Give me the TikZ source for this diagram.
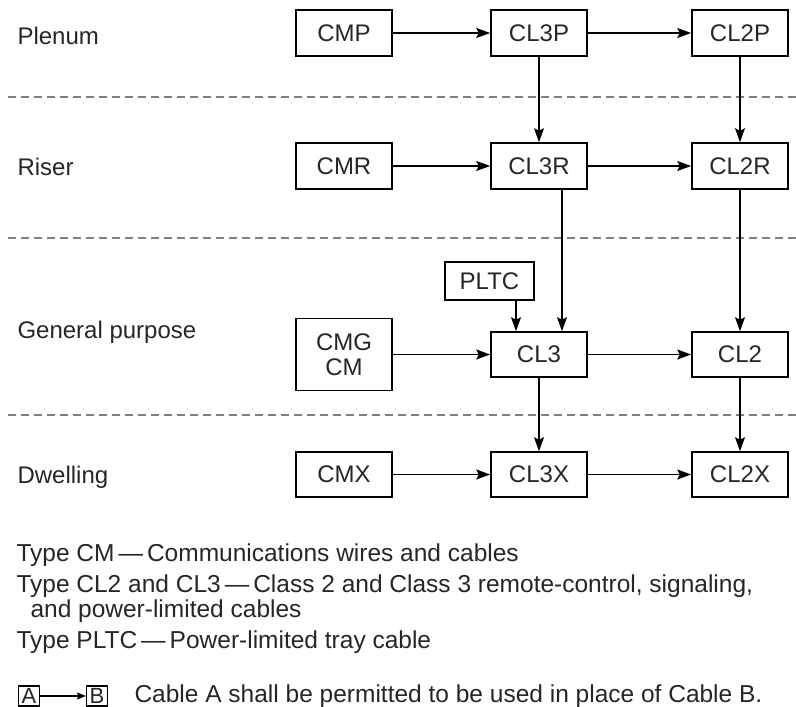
\documentclass[tikz,border=0pt]{standalone}
\usepackage{fontspec}
\setmainfont{Liberation Sans}
\usetikzlibrary{arrows.meta,positioning}
\def\dsh{\hspace{4pt}—\hspace{4pt}}

\begin{document}
\begin{tikzpicture}[
    x=1pt, y=-1pt,
    every node/.style={
        font=\fontsize{24}{25}\selectfont,
        text=black!85,
    },
    cable/.style={draw, line width=1.6pt, minimum width=96pt,
        minimum height=46pt, inner sep=0pt, align=center},
    permit/.style={-{Stealth[length=14pt,width=10pt,inset=2.5pt]}, line width=1.4pt},
    divider/.style={dash pattern=on 8pt off 5pt, line width=1.2pt, black!50},
    rowlabel/.style={anchor=base west},
    keyline/.style={anchor=base west, font=\fontsize{24.5}{25}\selectfont},
    keybox/.style={draw, line width=1.1pt, minimum width=21pt, minimum height=20pt,
        inner sep=0pt, font=\fontsize{22}{22}\selectfont},
]
    \useasboundingbox (0,0) rectangle (796,707);
    % rows
    \draw[divider] (8,97) -- (796,97);
    \draw[divider] (8,238) -- (796,238);
    \draw[divider] (8,415) -- (796,415);
    \node[rowlabel] (plenum) at (14,44) {Plenum};
    \node[rowlabel] (riser) at (14,175) {Riser};
    \node[rowlabel] (general) at (14,338) {General purpose};
    \node[rowlabel] (dwelling) at (14,483) {Dwelling};
    % cables
    \node[cable] (cmp) at (344,33) {CMP};
    \node[cable] (clthreep) at (539,33) {CL3P};
    \node[cable] (cltwop) at (740,33) {CL2P};
    \node[cable] (cmr) at (344,166) {CMR};
    \node[cable] (clthreer) at (539,166) {CL3R};
    \node[cable] (cltwor) at (740,166) {CL2R};
    \node[cable, minimum height=72pt] (cmg) at (344,354.5) {CMG\\CM};
    \node[cable, minimum height=45pt] (clthree) at (539,354.5) {CL3};
    \node[cable, minimum height=45pt] (cltwo) at (740,354.5) {CL2};
    \node[cable, minimum width=89pt, minimum height=38pt] (pltc) at (489.5,281) {PLTC};
    \node[cable, minimum height=45pt] (cmx) at (344,474.5) {CMX};
    \node[cable, minimum height=45pt] (clthreex) at (539,474.5) {CL3X};
    \node[cable, minimum height=45pt] (cltwox) at (740,474.5) {CL2X};
    \coordinate (inpltc) at ([xshift=-23pt]clthree.north);
    \coordinate (inriser) at ([xshift=23pt]clthree.north);
    % substitutions
    \draw[permit] (cmp) -- (clthreep);
    \draw[permit] (clthreep) -- (cltwop);
    \draw[permit] (cmr) -- (clthreer);
    \draw[permit] (clthreer) -- (cltwor);
    \draw[permit] (cmg) -- (clthree);
    \draw[permit] (clthree) -- (cltwo);
    \draw[permit] (cmx) -- (clthreex);
    \draw[permit] (clthreex) -- (cltwox);
    \draw[permit] (clthreep) -- (clthreer);
    \draw[permit] (cltwop) -- (cltwor);
    \draw[permit] (clthreer.south -| inriser) -- (inriser);
    \draw[permit] (pltc.south -| inpltc) -- (inpltc);
    \draw[permit] (cltwor) -- (cltwo);
    \draw[permit] (clthree) -- (clthreex);
    \draw[permit] (cltwo) -- (cltwox);
    % legend
    \node[keyline] (typecm) at (13,561) {Type CM\dsh Communications wires and cables};
    \node[keyline] (typecl) at (13,592) {Type CL2 and CL3\dsh Class 2 and Class 3 remote-control, signaling,};
    \node[keyline] (typecltwo) at (27,617) {and power-limited cables};
    \node[keyline] (typepltc) at (13,648) {Type PLTC\dsh Power-limited tray cable};
    \node[keybox] (keya) at (29,696) {A};
    \node[keybox] (keyb) at (97,696) {B};
    \draw[-{Stealth[length=9pt,width=7pt,inset=1.5pt]}, line width=1.1pt] (keya) -- (keyb);
    \node[keyline] (keytext) at (131,702) {Cable A shall be permitted to be used in place of Cable B.};
\end{tikzpicture}
\end{document}
